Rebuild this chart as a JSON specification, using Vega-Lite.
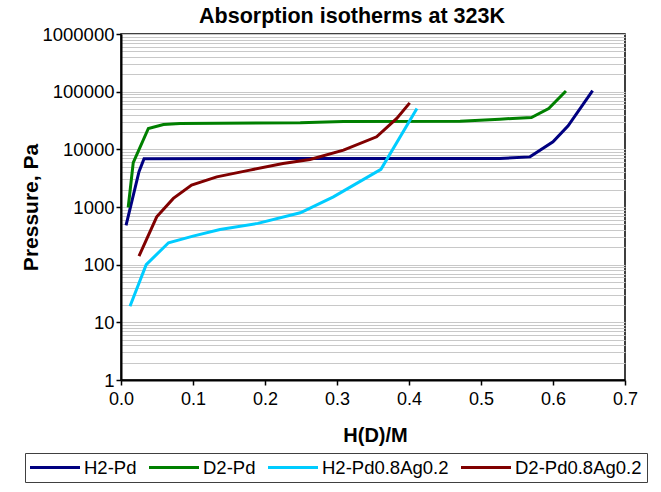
{
  "$schema": "https://vega.github.io/schema/vega-lite/v6.json",
  "width": 504,
  "height": 346,
  "autosize": "none",
  "padding": {"left": 121, "top": 34, "right": 36, "bottom": 112},
  "background": "white",
  "title": {
    "text": "Absorption isotherms at 323K",
    "font": "Liberation Sans",
    "fontSize": 21.5,
    "fontWeight": "bold",
    "color": "black",
    "anchor": "middle",
    "frame": "group",
    "offset": -2,
    "dx": -21
  },
  "config": {
    "view": {"stroke": "black", "strokeWidth": 1.5},
    "font": "Liberation Sans"
  },
  "data": {
    "values": [
      {"series": "H2-Pd", "x": 0.007, "p": 480},
      {"series": "H2-Pd", "x": 0.025, "p": 4100},
      {"series": "H2-Pd", "x": 0.032, "p": 6900},
      {"series": "H2-Pd", "x": 0.3, "p": 6950},
      {"series": "H2-Pd", "x": 0.526, "p": 6950},
      {"series": "H2-Pd", "x": 0.568, "p": 7400},
      {"series": "H2-Pd", "x": 0.6, "p": 13500},
      {"series": "H2-Pd", "x": 0.621, "p": 25500},
      {"series": "H2-Pd", "x": 0.655, "p": 104000},
      {"series": "D2-Pd", "x": 0.01, "p": 980},
      {"series": "D2-Pd", "x": 0.017, "p": 5900},
      {"series": "D2-Pd", "x": 0.038, "p": 23000},
      {"series": "D2-Pd", "x": 0.059, "p": 27000},
      {"series": "D2-Pd", "x": 0.082, "p": 28000},
      {"series": "D2-Pd", "x": 0.249, "p": 28800},
      {"series": "D2-Pd", "x": 0.309, "p": 30500},
      {"series": "D2-Pd", "x": 0.471, "p": 30800},
      {"series": "D2-Pd", "x": 0.526, "p": 33400},
      {"series": "D2-Pd", "x": 0.57, "p": 35700},
      {"series": "D2-Pd", "x": 0.594, "p": 51000},
      {"series": "D2-Pd", "x": 0.618, "p": 103000},
      {"series": "H2-Pd0.8Ag0.2", "x": 0.0125, "p": 19},
      {"series": "H2-Pd0.8Ag0.2", "x": 0.035, "p": 100},
      {"series": "H2-Pd0.8Ag0.2", "x": 0.066, "p": 240},
      {"series": "H2-Pd0.8Ag0.2", "x": 0.1, "p": 313},
      {"series": "H2-Pd0.8Ag0.2", "x": 0.1375, "p": 408},
      {"series": "H2-Pd0.8Ag0.2", "x": 0.19, "p": 520},
      {"series": "H2-Pd0.8Ag0.2", "x": 0.249, "p": 795},
      {"series": "H2-Pd0.8Ag0.2", "x": 0.295, "p": 1500},
      {"series": "H2-Pd0.8Ag0.2", "x": 0.361, "p": 4500},
      {"series": "H2-Pd0.8Ag0.2", "x": 0.411, "p": 51000},
      {"series": "D2-Pd0.8Ag0.2", "x": 0.025, "p": 141},
      {"series": "D2-Pd0.8Ag0.2", "x": 0.0496, "p": 677},
      {"series": "D2-Pd0.8Ag0.2", "x": 0.0727, "p": 1410},
      {"series": "D2-Pd0.8Ag0.2", "x": 0.098, "p": 2400},
      {"series": "D2-Pd0.8Ag0.2", "x": 0.133, "p": 3330},
      {"series": "D2-Pd0.8Ag0.2", "x": 0.179, "p": 4360},
      {"series": "D2-Pd0.8Ag0.2", "x": 0.225, "p": 5700},
      {"series": "D2-Pd0.8Ag0.2", "x": 0.2625, "p": 6680},
      {"series": "D2-Pd0.8Ag0.2", "x": 0.309, "p": 9680},
      {"series": "D2-Pd0.8Ag0.2", "x": 0.355, "p": 16500},
      {"series": "D2-Pd0.8Ag0.2", "x": 0.383, "p": 34300},
      {"series": "D2-Pd0.8Ag0.2", "x": 0.401, "p": 64000}
    ]
  },
  "mark": {"type": "line", "strokeWidth": 3},
  "encoding": {
    "x": {
      "field": "x",
      "type": "quantitative",
      "scale": {"domain": [0, 0.7], "nice": false, "zero": false},
      "axis": {
        "title": "H(D)/M",
        "values": [0, 0.1, 0.2, 0.3, 0.4, 0.5, 0.6, 0.7],
        "format": ".1f",
        "grid": false,
        "domainColor": "black",
        "domainWidth": 2,
        "tickColor": "black",
        "tickWidth": 1.5,
        "tickSize": 5,
        "labelFont": "Liberation Sans",
        "labelFontSize": 18,
        "labelColor": "black",
        "labelPadding": 5,
        "labelOverlap": false,
        "labelBound": false,
        "labelFlush": false,
        "titleFont": "Liberation Sans",
        "titleFontSize": 20,
        "titleFontWeight": "bold",
        "titleColor": "black",
        "titleBaseline": "alphabetic",
        "titleY": 61,
        "titleX": 254
      }
    },
    "y": {
      "field": "p",
      "type": "quantitative",
      "scale": {"type": "log", "domain": [1, 1000000], "nice": false},
      "axis": {
        "title": "Pressure, Pa",
        "values": [1, 2, 3, 4, 5, 6, 7, 8, 9, 10, 20, 30, 40, 50, 60, 70, 80, 90, 100, 200, 300, 400, 500, 600, 700, 800, 900, 1000, 2000, 3000, 4000, 5000, 6000, 7000, 8000, 9000, 10000, 20000, 30000, 40000, 50000, 60000, 70000, 80000, 90000, 100000, 200000, 300000, 400000, 500000, 600000, 700000, 800000, 900000, 1000000],
        "format": "d",
        "labelExpr": "indexof([1, 10, 100, 1000, 10000, 100000, 1000000], datum.value) >= 0 ? datum.label : ''",
        "grid": true,
        "gridColor": "#c8c8c8",
        "gridWidth": 1,
        "domainColor": "black",
        "domainWidth": 2,
        "tickColor": "black",
        "tickWidth": 1.5,
        "tickSize": 5,
        "tickOpacity": {"condition": {"test": "indexof([1, 10, 100, 1000, 10000, 100000, 1000000], datum.value) < 0", "value": 0}, "value": 1},
        "labelFont": "Liberation Sans",
        "labelFontSize": 18.5,
        "labelColor": "black",
        "labelPadding": 2,
        "labelOverlap": false,
        "labelBound": false,
        "labelFlush": false,
        "titleFont": "Liberation Sans",
        "titleFontSize": 21,
        "titleFontWeight": "bold",
        "titleColor": "black",
        "titleBaseline": "alphabetic",
        "titleX": -84,
        "titleY": 173
      }
    },
    "color": {
      "field": "series",
      "type": "nominal",
      "scale": {
        "domain": ["H2-Pd", "D2-Pd", "H2-Pd0.8Ag0.2", "D2-Pd0.8Ag0.2"],
        "range": ["#000080", "#008000", "#00ccff", "#800000"]
      },
      "legend": {
        "title": null,
        "orient": "none",
        "legendX": -96,
        "legendY": 419,
        "direction": "horizontal",
        "columns": 4,
        "symbolType": "M-3.125,0H3.125",
        "symbolSize": 256,
        "symbolStrokeWidth": 3,
        "symbolOffset": 15.5,
        "labelFont": "Liberation Sans",
        "labelFontSize": 18.5,
        "labelColor": "black",
        "labelOffset": 19.5,
        "columnPadding": 6,
        "padding": 5,
        "strokeColor": "#404040",
        "fillColor": "white"
      }
    }
  }
}
